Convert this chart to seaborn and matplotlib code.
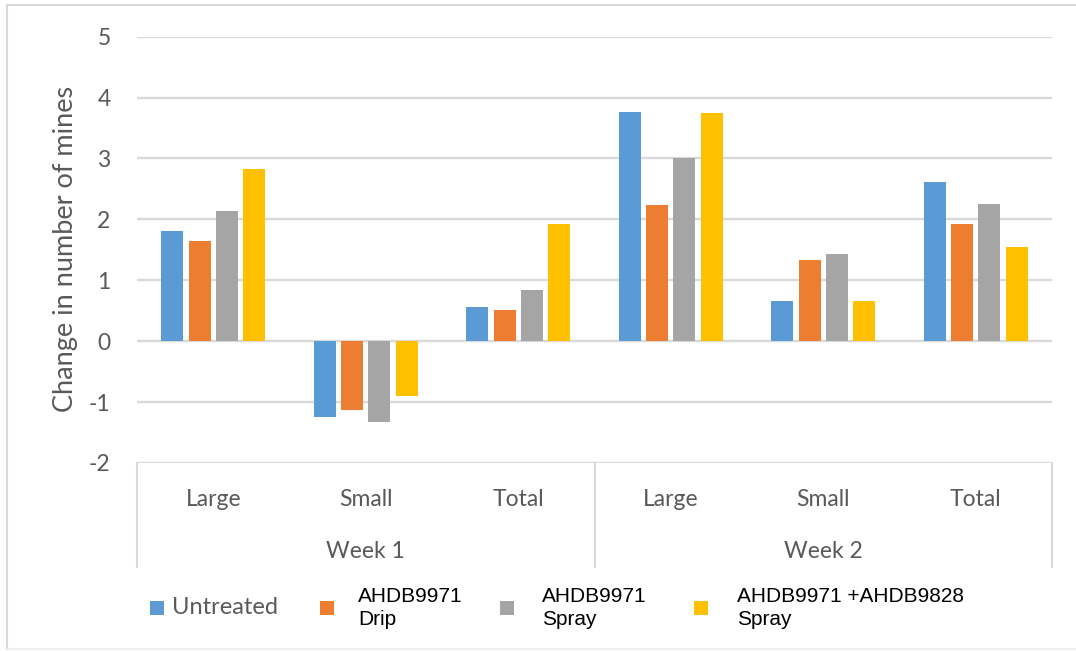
import matplotlib
matplotlib.use("Agg")
import matplotlib.pyplot as plt
from matplotlib.patches import Rectangle
from matplotlib.lines import Line2D
import seaborn as sns
import pandas as pd

# ---- data -------------------------------------------------------------
weeks = ["Week 1", "Week 2"]
sizes = ["Large", "Small", "Total"]
treatments = ["Untreated", "AHDB9971\nDrip", "AHDB9971\nSpray",
              "AHDB9971 +AHDB9828\nSpray"]
untreated = [1.81, -1.25, 0.56, 3.77, 0.66, 2.61]
drip = [1.65, -1.13, 0.51, 2.24, 1.34, 1.93]
spray = [2.14, -1.32, 0.84, 3.00, 1.43, 2.26]
combo_spray = [2.82, -0.90, 1.93, 3.74, 0.66, 1.55]
y_ticks = [-2, -1, 0, 1, 2, 3, 4, 5]
y_label = "Change in number of mines"

colors = ["#5B9BD5", "#ED7D31", "#A5A5A5", "#FFC000"]

categories = [f"{w}|{s}" for w in weeks for s in sizes]
rows = []
for name, vals in zip(treatments, [untreated, drip, spray, combo_spray]):
    for cat, v in zip(categories, vals):
        rows.append({"category": cat, "treatment": name, "value": v})
df = pd.DataFrame(rows)

# ---- figure -----------------------------------------------------------
sns.set_theme(style="white")
plt.rcParams["font.family"] = ["Lato", "DejaVu Sans"]
W, H = 1076, 651
fig = plt.figure(figsize=(W / 100, H / 100), dpi=100)
fig.patch.set_facecolor("white")

L, R, T, B = 137, 1052, 36.7, 463
ax = fig.add_axes([L / W, 1 - B / H, (R - L) / W, (B - T) / H])

sns.barplot(data=df, x="category", y="value", hue="treatment",
            order=categories, hue_order=treatments, palette=colors,
            width=0.72, gap=0.2, saturation=1, legend=False, ax=ax,
            edgecolor="none", linewidth=0)

ax.set_xlim(-0.5, len(categories) - 0.5)
ax.set_ylim(y_ticks[0], y_ticks[-1])
ax.set_yticks(y_ticks)
ax.set_yticklabels([str(t) for t in y_ticks])
ax.grid(axis="y", color="#d9d9d9", linewidth=1.7)
ax.set_axisbelow(True)
for s in ax.spines.values():
    s.set_visible(False)
ax.tick_params(axis="y", length=0, pad=19, labelsize=16.5, labelcolor="#595959")
ax.set_xticks([])
ax.set_xlabel("")
ax.set_ylabel("")

grey_txt = "#595959"
line_c = "#d9d9d9"

# y-axis title
fig.text(66 / W, 1 - 249 / H, y_label, rotation=90, ha="center", va="center",
         fontsize=19.5, color=grey_txt)

# two-level category axis: box lines and labels
ax_h = B - T
box_bottom = 567
for xp in [L, (L + R) / 2, R]:
    fig.add_artist(Line2D([xp / W, xp / W], [1 - B / H, 1 - box_bottom / H],
                          color=line_c, linewidth=1.5))
for i, cat in enumerate(categories):
    ax.text(i, -(500 - B) / ax_h, cat.split("|")[1],
            transform=ax.get_xaxis_transform(),
            ha="center", va="center", fontsize=16.5, color=grey_txt)
for j, w in enumerate(weeks):
    ax.text(j * 3 + 1, -(551 - B) / ax_h, w, transform=ax.get_xaxis_transform(),
            ha="center", va="center", fontsize=16.5, color=grey_txt)

# legend
sq = 14
legend_items = [
    (150, 172, "Lato", grey_txt, 17),
    (320, 358, "Liberation Sans", "black", 15),
    (500, 542, "Liberation Sans", "black", 15),
    (694, 737, "Liberation Sans", "black", 15),
]
for (sx, tx, fam, tc, fs), name, c in zip(legend_items, treatments, colors):
    fig.add_artist(Rectangle((sx / W, 1 - 615 / H), sq / W, sq / H,
                             facecolor=c, edgecolor="none",
                             transform=fig.transFigure))
    fig.text(tx / W, 1 - 608 / H, name, ha="left", va="center",
             fontsize=fs, color=tc, family=fam, linespacing=1.28)

# outer chart frame
fig.add_artist(Line2D([7 / W, 7 / W, 1.0], [1 - 649 / H, 1 - 5 / H, 1 - 5 / H],
                      color=line_c, linewidth=1.5))
fig.add_artist(Line2D([7 / W, 1.0], [1 - 649 / H, 1 - 649 / H],
                      color="#eeeeee", linewidth=1.2))

fig.savefig("out.png", dpi=100, facecolor="white")
